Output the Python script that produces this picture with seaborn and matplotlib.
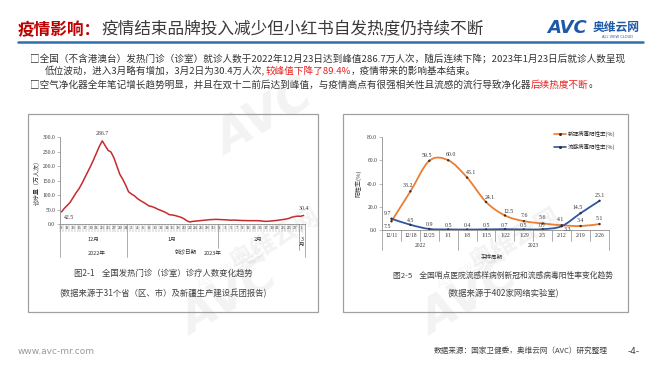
import numpy as np
import pandas as pd
import matplotlib
matplotlib.use('Agg')
import matplotlib.pyplot as plt
import seaborn as sns
from matplotlib.lines import Line2D
from matplotlib.patches import Rectangle, PathPatch
from matplotlib.path import Path

# ---- data: daily fever clinic visits (万人次), 2022-12-09 .. 2023-03-02
dec_visits = [42.5, 55, 65, 76, 92, 108, 122, 140, 160, 180, 200, 222, 245, 268,
              286.7, 270, 254, 248, 228, 200, 172, 155, 135]
jan_visits = [112, 104, 98, 89, 82, 76, 70, 63, 61, 57, 52, 48, 44, 39, 33, 32,
              30, 27, 24, 19, 12, 8, 10, 11, 12, 13, 14, 15, 16, 16.5, 17]
feb_visits = [16.5, 16, 15.5, 15, 14, 14.5, 14, 13.5, 13, 13, 12.5, 12.5, 12.5,
              12.5, 12, 11, 10, 10.5, 11.5, 12.5, 13.5, 15, 16.5, 18, 20.5, 24.5,
              26.5, 28]
mar_visits = [27.5, 30.4]
day_numbers = (list(range(9, 32)) + list(range(1, 32)) + list(range(1, 29))
               + [1, 2])
month_labels = ['12月', '1月', '2月', '3\n月']
year_labels = ['2022年', '2023年']

# ---- data: sentinel hospital positivity rate (%)
weeks = ['12/11', '12/18', '12/25', '1/1', '1/8', '1/15', '1/22', '1/29',
         '2/5', '2/12', '2/19', '2/26']
covid_rate = [7.5, 33.2, 59.5, 60.0, 45.1, 24.1, 12.5, 7.6, 5.6, 4.1, 3.4, 5.1]
flu_rate = [9.7, 4.5, 0.9, 0.5, 0.4, 0.5, 0.7, 0.5, 0.7, 3.3, 14.5, 25.1]

visits = dec_visits + jan_visits + feb_visits + mar_visits
df_left = pd.DataFrame({'day': np.arange(len(visits)), 'visits': visits})
df_right = pd.DataFrame({'week': np.arange(len(weeks)),
                         'covid': covid_rate, 'flu': flu_rate})

sns.set_theme(style='white')
plt.rcParams['font.family'] = ['Noto Sans CJK SC', 'DejaVu Sans']
plt.rcParams['axes.unicode_minus'] = False

W, H = 660, 372
fig = plt.figure(figsize=(6.6, 3.72), dpi=100)
fig.patch.set_facecolor('white')


def fx(x):
    return x / W


def fy(y):
    return 1 - y / H


def seq_text(x, y, pieces, **kw):
    r = fig.canvas.get_renderer()
    xx = fx(x)
    for s, c in pieces:
        t = fig.text(xx, fy(y), s, color=c, va='center', ha='left', **kw)
        xx += t.get_window_extent(r).width / W


# ---- header
seq_text(18, 30, [('疫情影响：', '#C00000')], fontsize=12, weight='bold')
seq_text(101, 30, [('疫情结束品牌投入减少但小红书自发热度仍持续不断', '#3a3a3a')],
         fontsize=12)
fig.add_artist(Line2D([fx(18), fx(643)], [fy(42), fy(42)], color='#2E6DAE',
                      lw=1.8, transform=fig.transFigure))
fig.text(fx(547), fy(28), 'AVC', fontsize=13, weight='bold', style='italic',
         color='#1F58A8', va='center', family=['DejaVu Sans'])
fig.text(fx(593), fy(27), '奥维云网', fontsize=8.5, weight='bold',
         color='#1F58A8', va='center')
fig.text(fx(617), fy(37), 'ALL VIEW CLOUD', fontsize=2.6, color='#1F58A8',
         ha='center', va='center', family=['DejaVu Sans'])

body = '#333333'
red = '#E8201E'
seq_text(30, 58.5, [('□全国（不含港澳台）发热门诊（诊室）就诊人数于2022年12月23日达到峰值286.7万人次，'
                     '随后连续下降；2023年1月23日后就诊人数呈现', body)], fontsize=6.9)
seq_text(45, 71.5, [('低位波动，进入3月略有增加，3月2日为30.4万人次,', body),
                    ('较峰值下降了89.4%', red),
                    ('，疫情带来的影响基本结束。', body)], fontsize=6.9)
seq_text(30, 85, [('□空气净化器全年笔记增长趋势明显，并且在双十二前后达到峰值，'
                   '与疫情高点有很强相关性且流感的流行导致净化器', body),
                  ('后续热度不断', red), ('。', body)], fontsize=6.9)

# ---- panel frames
for x0, x1 in [(28, 318), (343, 628)]:
    fig.add_artist(Rectangle((fx(x0), fy(312)), (x1 - x0) / W, 198 / H,
                             fill=False, ec='#A0A0A0', lw=0.9,
                             transform=fig.transFigure))

serif = ['Liberation Serif', 'DejaVu Serif']
grey_axis = '#8C8C8C'

# ---- left chart
ax1 = fig.add_axes([fx(60), fy(224.3), 245 / W, 87.3 / H])
sns.lineplot(data=df_left, x='day', y='visits', ax=ax1, color='#C62A2F',
             lw=1.1)
ax1.set_xlim(-0.5, len(visits) - 0.5)
ax1.set_ylim(0, 300)
ax1.set_yticks(np.arange(0, 301, 50))
ax1.set_yticklabels([f'{v:.1f}' for v in np.arange(0, 301, 50)],
                    fontsize=4, family=serif, color='#333')
ticks = list(range(0, len(visits), 2))
ax1.set_xticks(ticks)
ax1.set_xticklabels([str(day_numbers[i]) for i in ticks], fontsize=3.3,
                    family=serif, rotation=0, color='#333')
ax1.set_xticks(np.arange(len(visits)) - 0.5, minor=True)
ax1.tick_params(axis='x', which='major', length=0, pad=1.5)
ax1.tick_params(axis='x', which='minor', length=6, width=0.3,
                color=grey_axis, bottom=True)
ax1.tick_params(axis='y', length=2, width=0.4, color=grey_axis, pad=1.5,
                left=True)
ax1.set_xlabel('')
ax1.set_ylabel('诊疗量（万人次）', fontsize=4.3, color='#333', labelpad=2)
for s in ['top', 'right']:
    ax1.spines[s].set_visible(False)
for s in ['left', 'bottom']:
    ax1.spines[s].set_color(grey_axis)
    ax1.spines[s].set_linewidth(0.6)

xt1 = ax1.get_xaxis_transform()
for xd, depth in [(-0.5, -0.375), (22.5, -0.375), (53.5, -0.27),
                  (81.5, -0.3), (83.5, -0.375)]:
    ax1.plot([xd, xd], [0, depth], transform=xt1, clip_on=False,
             color=grey_axis, lw=0.5)
for xd, lab in zip([11, 38, 67.5, 82.5], month_labels):
    ax1.text(xd, -0.14, lab, transform=xt1, fontsize=4, ha='center',
             va='top', color='#333', linespacing=1.0)
ax1.text(12, -0.34, year_labels[0], transform=xt1, fontsize=4, ha='center',
         va='center', color='#333')
ax1.text(52, -0.34, year_labels[1], transform=xt1, fontsize=4, ha='center',
         va='center', color='#333')
ax1.text(42.5, -0.31, '就诊日期', transform=xt1, fontsize=4, ha='center',
         va='center', color='#333')

i_peak = int(np.argmax(visits))
ax1.annotate(f'{visits[0]:.1f}', (0, visits[0]), xytext=(2, -4),
             textcoords='offset points', fontsize=4.2, family=serif,
             color='#333', va='center')
ax1.annotate(f'{visits[i_peak]:.1f}', (i_peak, visits[i_peak]),
             xytext=(0, 4), textcoords='offset points', fontsize=4.2,
             family=serif, color='#333', ha='center')
ax1.annotate(f'{visits[-1]:.1f}', (len(visits) - 1, visits[-1]),
             xytext=(0, 4), textcoords='offset points', fontsize=4.2,
             family=serif, color='#333', ha='center')

fig.text(fx(163), fy(273), '图2-1    全国发热门诊（诊室）诊疗人数变化趋势', fontsize=6,
         ha='center', va='center', color='#404040')
fig.text(fx(163), fy(294), '(数据来源于31个省（区、市）及新疆生产建设兵团报告)',
         fontsize=6, ha='center', va='center', color='#404040')

# ---- right chart
ax2 = fig.add_axes([fx(382), fy(230), 227 / W, 93 / H])
orange = '#ED7D31'
blue = '#2F55A4'


def smooth_path(xs, ys):
    P = np.column_stack([xs, ys]).astype(float)
    n = len(P)
    verts = [P[0]]
    codes = [Path.MOVETO]
    for i in range(n - 1):
        p0 = P[i - 1] if i > 0 else P[i]
        p1, p2 = P[i], P[i + 1]
        p3 = P[i + 2] if i + 2 < n else P[i + 1]
        verts += [p1 + (p2 - p0) / 6, p2 - (p3 - p1) / 6, p2]
        codes += [Path.CURVE4] * 3
    return Path(verts, codes)


for col, c in [('covid', orange), ('flu', blue)]:
    ax2.add_patch(PathPatch(smooth_path(df_right['week'], df_right[col]),
                            fill=False, ec=c, lw=1.3))
    sns.scatterplot(data=df_right, x='week', y=col, ax=ax2, s=3,
                    color='#333', edgecolor='none', zorder=3)

ax2.set_xlim(-0.5, len(weeks) - 0.5)
ax2.set_ylim(0, 80)
ax2.set_yticks(np.arange(0, 81, 20))
ax2.set_yticklabels([f'{v:.1f}' for v in np.arange(0, 81, 20)], fontsize=4,
                    family=serif, color='#333')
ax2.set_xticks(range(len(weeks)))
ax2.set_xticklabels(weeks, fontsize=4, family=serif, color='#333')
ax2.tick_params(axis='x', length=0, pad=2.5)
ax2.tick_params(axis='y', length=2, width=0.4, color=grey_axis, pad=1.5,
                left=True)
ax2.set_xlabel('')
ax2.set_ylabel('阳性率(%)', fontsize=4.3, color='#333', labelpad=4)
for s in ['top', 'right']:
    ax2.spines[s].set_visible(False)
for s in ['left', 'bottom']:
    ax2.spines[s].set_color(grey_axis)
    ax2.spines[s].set_linewidth(0.6)

xt2 = ax2.get_xaxis_transform()
for k in range(len(weeks) + 1):
    depth = -0.22 if k in (0, 4, 12) else -0.12
    ax2.plot([k - 0.5, k - 0.5], [0, depth], transform=xt2, clip_on=False,
             color=grey_axis, lw=0.5)
ax2.text(1.5, -0.17, '2022', transform=xt2, fontsize=4, family=serif,
         ha='center', va='center', color='#333')
ax2.text(7.5, -0.17, '2023', transform=xt2, fontsize=4, family=serif,
         ha='center', va='center', color='#333')
ax2.text(5.3, -0.29, '采样周期', transform=xt2, fontsize=4, ha='center',
         va='center', color='#333')

covid_off = [(-3, -4), (-2, 4), (-2, 4), (2, 4), (3, 4), (3, 3), (3, 3),
             (0, 4), (0, 4), (-1, 4), (0, 4), (0, 4)]
flu_off = [(-3, 4), (0, 3), (0, 3), (0, 3), (0, 3), (0, 3), (0, 3), (0, 3),
           (0, 3), (4, -2.5), (-2, 4), (0, 4)]
for i in range(len(weeks)):
    ax2.annotate(f'{covid_rate[i]:.1f}', (i, covid_rate[i]),
                 xytext=covid_off[i], textcoords='offset points', fontsize=4.2,
                 family=serif, color='#333', ha='center', va='center')
    ax2.annotate(f'{flu_rate[i]:.1f}', (i, flu_rate[i]),
                 xytext=flu_off[i], textcoords='offset points', fontsize=4.2,
                 family=serif, color='#333', ha='center', va='center')

handles = [Line2D([0], [0], color=orange, lw=1.2, marker='o', ms=1.2,
                  mfc='#333', mec='#333'),
           Line2D([0], [0], color=blue, lw=1.2, marker='o', ms=1.2,
                  mfc='#333', mec='#333')]
ax2.legend(handles, ['新冠病毒阳性率(%)', '流感病毒阳性率(%)'], loc='upper right',
           bbox_to_anchor=(1.05, 1.12), frameon=False, fontsize=4,
           handlelength=2.2, labelspacing=1.2, handletextpad=0.4)

fig.text(fx(503), fy(276), '图2-5    全国哨点医院流感样病例新冠和流感病毒阳性率变化趋势',
         fontsize=5.6, ha='center', va='center', color='#404040')
fig.text(fx(503), fy(294), '(数据来源于402家网络实验室)', fontsize=6,
         ha='center', va='center', color='#404040')

# ---- watermarks
wm = dict(color='#9a9a9a', alpha=0.12, rotation=30, ha='center', va='center')
for cx, cy in [(230, 300), (470, 300), (265, 120)]:
    fig.text(fx(cx), fy(cy), 'AVC', fontsize=34, weight='bold',
             style='italic', family=['DejaVu Sans'], **wm)
for cx, cy in [(275, 240), (515, 240)]:
    fig.text(fx(cx), fy(cy), '奥维云网', fontsize=18, weight='bold', **wm)
    fig.text(fx(cx - 45), fy(cy + 28), 'ALL VIEW CLOUD', fontsize=6,
             family=['DejaVu Sans'], **wm)

# ---- footer
fig.text(fx(18), fy(351), 'www.avc-mr.com', fontsize=6.5, color='#9a9a9a',
         va='center', family=['DejaVu Sans'])
fig.text(fx(608), fy(351), '数据来源：国家卫健委，奥维云网（AVC）研究整理', fontsize=5.5,
         color='#404040', ha='right', va='center')
fig.text(fx(634), fy(351), '-4-', fontsize=6.5, color='#404040',
         ha='center', va='center', family=['DejaVu Sans'])

fig.savefig('out.png', dpi=100)
